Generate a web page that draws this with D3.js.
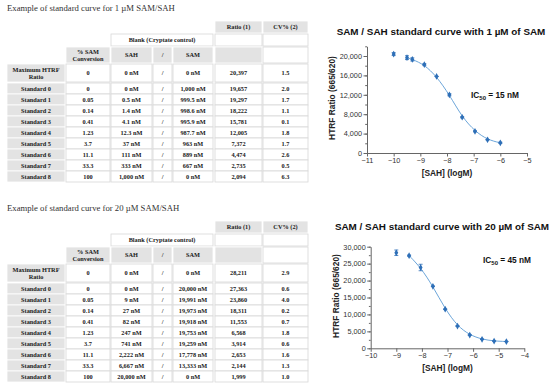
<!DOCTYPE html>
<html>
<head>
<meta charset="utf-8">
<script src="https://cdn.jsdelivr.net/npm/d3@7"></script>
<style>
  body { margin: 0; background: #fff; }
  svg { display: block; }
</style>
</head>
<body>
<div id="chart"></div>
<script>
// table rows
var rowLabels = ["Maximum HTRF|Ratio", "Standard 0", "Standard 1", "Standard 2", "Standard 3",
                 "Standard 4", "Standard 5", "Standard 6", "Standard 7", "Standard 8"];
var conversion = ["0", "0", "0.05", "0.14", "0.41", "1.23", "3.7", "11.1", "33.3", "100"];

// 1 uM SAM
var sah1 = ["0 nM", "0 nM", "0.5 nM", "1.4 nM", "4.1 nM", "12.3 nM", "37 nM", "111 nM", "333 nM", "1,000 nM"];
var sam1 = ["0 nM", "1,000 nM", "999.5 nM", "998.6 nM", "995.9 nM", "987.7 nM", "963 nM", "889 nM", "667 nM", "0 nM"];
var ratio1 = [20397, 19657, 19297, 18222, 15781, 12005, 7372, 4474, 2735, 2094];
var cv1 = [1.5, 2.0, 1.7, 1.1, 0.1, 1.8, 1.7, 2.6, 0.5, 6.3];
var logX1 = [-10, -9.5, -9.3, -8.85, -8.39, -7.91, -7.43, -6.95, -6.48, -6.0];

// 20 uM SAM
var sah20 = ["0 nM", "0 nM", "9 nM", "27 nM", "82 nM", "247 nM", "741 nM", "2,222 nM", "6,667 nM", "20,000 nM"];
var sam20 = ["0 nM", "20,000 nM", "19,991 nM", "19,973 nM", "19,918 nM", "19,753 nM", "19,259 nM", "17,778 nM", "13,333 nM", "0 nM"];
var ratio20 = [28211, 27363, 23860, 18311, 11553, 6568, 3914, 2653, 2144, 1999];
var cv20 = [2.9, 0.6, 4.0, 0.2, 0.7, 1.8, 0.6, 1.6, 1.3, 1.0];
var logX20 = [-9, -8.5, -8.05, -7.57, -7.09, -6.61, -6.13, -5.65, -5.18, -4.70];

var yTicks1 = [0, 4000, 8000, 12000, 16000, 20000];
var yTicks20 = [0, 5000, 10000, 15000, 20000, 25000, 30000];
var xTicks1 = [-11, -10, -9, -8, -7, -6, -5];
var xTicks20 = [-10, -9, -8, -7, -6, -5, -4];

var W = 555, H = 386;
var GRAY = "#e3e3e3", LINE = "#d8d8d8";
var SERIF = "'Liberation Serif', 'DejaVu Serif', serif";
var SANS = "'Liberation Sans', Arial, sans-serif";

var svg = d3.select("#chart").append("svg")
    .attr("width", W)
    .attr("height", H);
svg.append("rect").attr("width", W).attr("height", H).attr("fill", "#fff");

var cols = [[7, 65], [66, 110], [111, 152], [153, 172], [173, 213], [215, 262], [263, 308]];

var drawTable = function (oy, title, sah, sam, ratio, cv) {
    var g = svg.append("g").attr("transform", "translate(0," + oy + ")");

    g.append("text")
        .attr("x", 7).attr("y", 11)
        .attr("font-family", SERIF).attr("font-size", 8.7)
        .attr("fill", "#333")
        .text(title);

    var cell = function (c0, c1, y0, y1, fill) {
        g.append("rect")
            .attr("x", cols[c0][0]).attr("y", y0)
            .attr("width", cols[c1][1] - cols[c0][0]).attr("height", y1 - y0)
            .attr("fill", fill)
            .attr("stroke", fill == "#fff" ? LINE : "#fff")
            .attr("stroke-width", 0.8);
    };
    var label = function (c0, c1, y0, y1, txt) {
        var lines = txt.split("|");
        var cx = (cols[c0][0] + cols[c1][1]) / 2;
        var cy = (y0 + y1) / 2 - (lines.length - 1) * 3.4;
        lines.forEach(function (t, i) {
            g.append("text")
                .attr("x", cx).attr("y", cy + i * 6.8 + 2.1)
                .attr("text-anchor", "middle")
                .attr("font-family", SERIF).attr("font-size", 6.3)
                .attr("font-weight", "bold")
                .attr("fill", "#1a1a1a")
                .text(t);
        });
    };

    // header rows
    cell(5, 5, 21, 33, GRAY); label(5, 5, 21, 33, "Ratio (1)");
    cell(6, 6, 21, 33, GRAY); label(6, 6, 21, 33, "CV% (2)");
    cell(2, 4, 34, 46, "#fff"); label(2, 4, 34, 46, "Blank (Cryptate control)");
    cell(5, 5, 34, 46, "#fff"); cell(6, 6, 34, 46, "#fff");
    cell(1, 1, 47, 63, GRAY); label(1, 1, 47, 63, "% SAM|Conversion");
    cell(2, 2, 47, 63, GRAY); label(2, 2, 47, 63, "SAH");
    cell(3, 3, 47, 63, GRAY); label(3, 3, 47, 63, "/");
    cell(4, 4, 47, 63, GRAY); label(4, 4, 47, 63, "SAM");
    cell(5, 5, 47, 63, GRAY); cell(6, 6, 47, 63, "#fff");

    var fmt = d3.format(",");
    rowLabels.forEach(function (r, i) {
        var y0 = i == 0 ? 64 : 83 + (i - 1) * 11;
        var y1 = i == 0 ? 82 : y0 + 11;
        cell(0, 0, y0, y1, GRAY);
        for (var c = 1; c <= 6; c++) cell(c, c, y0, y1, "#fff");
        label(0, 0, y0, y1, r);
        label(1, 1, y0, y1, conversion[i]);
        label(2, 2, y0, y1, sah[i]);
        label(3, 3, y0, y1, "/");
        label(4, 4, y0, y1, sam[i]);
        label(5, 5, y0, y1, fmt(ratio[i]));
        label(6, 6, y0, y1, cv[i].toFixed(1));
    });
};

drawTable(0, "Example of standard curve for 1 \u00b5M SAM/SAH", sah1, sam1, ratio1, cv1);
drawTable(200, "Example of standard curve for 20 \u00b5M SAM/SAH", sah20, sam20, ratio20, cv20);

var drawChart = function (opt) {
    var g = svg.append("g");
    var x = d3.scaleLinear().domain(opt.xDomain).range(opt.xRange);
    var y = d3.scaleLinear().domain(opt.yDomain).range(opt.yRange);

    g.append("text")
        .attr("x", opt.titleX).attr("y", opt.titleY)
        .attr("text-anchor", "middle")
        .attr("font-family", SANS).attr("font-size", 9.9)
        .attr("font-weight", "bold").attr("fill", "#111")
        .text(opt.title);

    // minor y ticks
    var minor = d3.range(opt.yDomain[0], opt.yDomain[1] + 1, opt.yMinor);
    g.append("g")
        .attr("transform", "translate(" + opt.xRange[0] + ",0)")
        .call(d3.axisLeft(y).tickValues(minor).tickSize(1.8).tickFormat(""))
        .call(function (a) { a.select(".domain").remove(); })
        .selectAll("line").attr("stroke", "#666");

    var yAxis = g.append("g")
        .attr("transform", "translate(" + opt.xRange[0] + ",0)")
        .call(d3.axisLeft(y).tickValues(opt.yTicks).tickSize(3.5).tickPadding(1.5)
            .tickFormat(d3.format(",")).tickSizeOuter(0));
    var xAxis = g.append("g")
        .attr("transform", "translate(0," + opt.yRange[0] + ")")
        .call(d3.axisBottom(x).tickValues(opt.xTicks).tickSize(3.5).tickPadding(1.5)
            .tickFormat(d3.format("d")).tickSizeOuter(0));
    [yAxis, xAxis].forEach(function (a) {
        a.select(".domain").attr("stroke", "#666");
        a.selectAll("line").attr("stroke", "#666");
        a.selectAll("text").attr("font-family", SANS).attr("font-size", 7.3).attr("fill", "#333");
    });

    g.append("text")
        .attr("x", (opt.xRange[0] + opt.xRange[1]) / 2).attr("y", opt.yRange[0] + 23)
        .attr("text-anchor", "middle")
        .attr("font-family", SANS).attr("font-size", 8.4)
        .attr("font-weight", "bold").attr("fill", "#222")
        .text("[SAH] (logM)");
    g.append("text")
        .attr("transform", "translate(" + (opt.xRange[0] - 32) + "," + opt.yLabelY + ") rotate(-90)")
        .attr("text-anchor", "middle")
        .attr("font-family", SANS).attr("font-size", 8.4)
        .attr("font-weight", "bold").attr("fill", "#222")
        .text("HTRF Ratio (665/620)");

    // fitted curve through the standards
    var pts = opt.logX.map(function (d, i) { return { x: d, y: opt.ratio[i], cv: opt.cv[i] }; });
    var line = d3.line()
        .x(function (d) { return x(d.x); })
        .y(function (d) { return y(d.y); })
        .curve(d3.curveBasis);
    g.append("path")
        .datum(pts.slice(1))
        .attr("d", line)
        .attr("fill", "none")
        .attr("stroke", "#5b9bd5")
        .attr("stroke-width", 0.9);

    // error bars
    var eb = g.append("g").attr("stroke", "#2e6fb7").attr("stroke-width", 0.8);
    pts.forEach(function (d) {
        var sd = d.y * d.cv / 100;
        var cx = x(d.x), yt = y(d.y + sd), yb = y(d.y - sd);
        eb.append("line").attr("x1", cx).attr("x2", cx).attr("y1", yt).attr("y2", yb);
        eb.append("line").attr("x1", cx - 2).attr("x2", cx + 2).attr("y1", yt).attr("y2", yt);
        eb.append("line").attr("x1", cx - 2).attr("x2", cx + 2).attr("y1", yb).attr("y2", yb);
    });

    g.selectAll("path.pt")
        .data(pts)
        .enter()
        .append("path")
        .attr("class", "pt")
        .attr("d", d3.symbol().type(d3.symbolDiamond).size(13))
        .attr("transform", function (d) { return "translate(" + x(d.x) + "," + y(d.y) + ")"; })
        .attr("fill", "#2e6fb7");

    var ic = g.append("text")
        .attr("x", opt.icX).attr("y", opt.icY)
        .attr("font-family", SANS).attr("font-size", 8.3)
        .attr("font-weight", "bold").attr("fill", "#111");
    ic.append("tspan").text("IC");
    ic.append("tspan").attr("font-size", 6).attr("dy", 2).text("50");
    ic.append("tspan").attr("dy", -2).text(" = " + opt.ic50);
};

drawChart({
    title: "SAM / SAH standard curve with 1 \u00b5M of SAM",
    titleX: 441, titleY: 35,
    xDomain: [-11, -5], xRange: [367, 527],
    yDomain: [0, 22000], yRange: [153, 46.3],
    yTicks: yTicks1, xTicks: xTicks1, yMinor: 2000,
    yLabelY: 98,
    logX: logX1, ratio: ratio1, cv: cv1,
    icX: 471, icY: 98, ic50: "15 nM"
});

drawChart({
    title: "SAM / SAH standard curve with 20 \u00b5M of SAM",
    titleX: 442, titleY: 230,
    xDomain: [-10, -4], xRange: [370.7, 524.3],
    yDomain: [0, 30000], yRange: [348.3, 246.7],
    yTicks: yTicks20, xTicks: xTicks20, yMinor: 2500,
    yLabelY: 296,
    logX: logX20, ratio: ratio20, cv: cv20,
    icX: 483, icY: 263, ic50: "45 nM"
});
</script>
</body>
</html>
